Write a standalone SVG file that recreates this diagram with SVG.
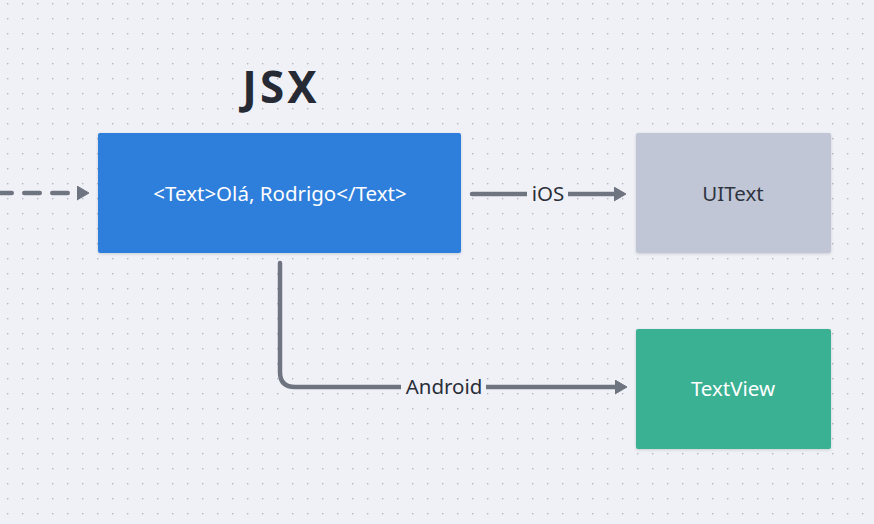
<svg xmlns="http://www.w3.org/2000/svg" width="874" height="524" viewBox="0 0 874 524">
<defs>
<pattern id="dots" x="7" y="3" width="15" height="15" patternUnits="userSpaceOnUse">
<circle cx="0.6" cy="0.6" r="0.9" fill="#b4b6c2"/>
</pattern>
<marker id="ah" viewBox="0 0 12 15" refX="0" refY="7.5" markerWidth="12" markerHeight="15" orient="auto" markerUnits="userSpaceOnUse">
<path d="M0,0.5 L12,7.5 L0,14.5 z" fill="#6f7580" stroke="#6f7580" stroke-width="1" stroke-linejoin="round"/>
</marker>
<filter id="sh" x="-10%" y="-10%" width="120%" height="130%">
<feDropShadow dx="0" dy="1" stdDeviation="1.5" flood-color="#000" flood-opacity="0.15"/>
</filter>
</defs>
<style>
.line{fill:none;stroke:#6f7580;stroke-width:4.5;stroke-linecap:round;stroke-linejoin:round}
.lbl{font-family:"Noto Sans","Liberation Sans",sans-serif;font-size:20.5px;fill:#2a2e38;text-anchor:middle}
.nt{font-family:"Noto Sans","Liberation Sans",sans-serif;font-size:20.5px;text-anchor:middle;dominant-baseline:central}
</style>
<rect width="874" height="524" fill="#f0f1f7"/>
<rect width="874" height="524" fill="url(#dots)"/>
<text x="281" y="103" font-family="'Noto Sans','Liberation Sans',sans-serif" font-weight="bold" font-size="44" letter-spacing="3" fill="#262a35" text-anchor="middle">JSX</text>
<g id="connectors">
<path class="line" d="M-3.75,193 L77,193" stroke-dasharray="15.5 12.5" marker-end="url(#ah)"/>
<path class="line" d="M472,194 L614,194" marker-end="url(#ah)"/>
<rect x="527" y="180" width="41" height="28" fill="#f0f1f7"/>
<text class="lbl" x="548" y="201">iOS</text>
<path class="line" d="M280,263 L280,372 Q280,387 295,387 L615,387" marker-end="url(#ah)"/>
<rect x="401" y="373" width="85" height="28" fill="#f0f1f7"/>
<text class="lbl" x="444" y="394">Android</text>
</g>
<g id="jsx-node">
<rect x="98" y="133" width="363" height="120" rx="2" fill="#2f7edb" filter="url(#sh)"/>
<text class="nt" x="280" y="193" fill="#ffffff" font-size="19.9">&lt;Text&gt;Olá, Rodrigo&lt;/Text&gt;</text>
</g>
<g id="uitext-node">
<rect x="636" y="133" width="195" height="120" rx="2" fill="#c0c6d6" filter="url(#sh)"/>
<text class="nt" x="733" y="193" fill="#2f3440">UIText</text>
</g>
<g id="textview-node">
<rect x="636" y="329" width="195" height="120" rx="2" fill="#3bb193" filter="url(#sh)"/>
<text class="nt" x="733" y="388" fill="#ffffff">TextView</text>
</g>
</svg>
